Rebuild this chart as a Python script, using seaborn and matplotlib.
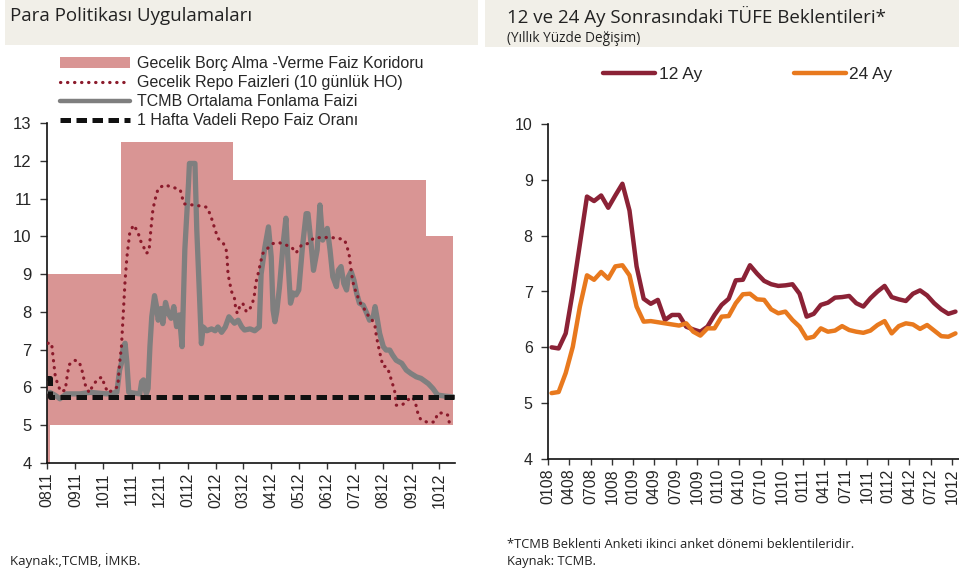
import pandas as pd
import seaborn as sns
import matplotlib.pyplot as plt
import matplotlib.dates as mdates
from matplotlib.patches import Patch, Rectangle
from matplotlib.lines import Line2D

# ---- left panel: policy corridor and overnight rates ----
corridor_dates = ["2011-08-01", "2011-08-04", "2011-10-20", "2012-02-19", "2012-09-16", "2012-10-16"]
corridor_low = [1.5, 5.0, 5.0, 5.0, 5.0, 5.0]
corridor_high = [9.0, 9.0, 12.5, 11.5, 10.0, 10.0]

policy_dates = ["2011-08-01", "2011-08-04", "2012-10-17"]
policy_rate = [6.25, 5.75, 5.75]

repo_dates = [
    "2011-08-02", "2011-08-06", "2011-08-08", "2011-08-10", "2011-08-13", "2011-08-16",
    "2011-08-21", "2011-08-22", "2011-08-25", "2011-08-31", "2011-09-05", "2011-09-08",
    "2011-09-10", "2011-09-12", "2011-09-16", "2011-09-20", "2011-09-26", "2011-09-30",
    "2011-10-03", "2011-10-07", "2011-10-11", "2011-10-17", "2011-10-19", "2011-10-21",
    "2011-10-23", "2011-10-25", "2011-10-27", "2011-10-30", "2011-11-03", "2011-11-08",
    "2011-11-10", "2011-11-14", "2011-11-17", "2011-11-20", "2011-11-22", "2011-11-24",
    "2011-11-26", "2011-11-30", "2011-12-07", "2011-12-16", "2011-12-24", "2011-12-28",
    "2012-01-16", "2012-01-22", "2012-01-26", "2012-01-31", "2012-02-03", "2012-02-09",
    "2012-02-12", "2012-02-13", "2012-02-14", "2012-02-16", "2012-02-18", "2012-02-21",
    "2012-02-22", "2012-02-24", "2012-02-27", "2012-03-01", "2012-03-05", "2012-03-09",
    "2012-03-12", "2012-03-14", "2012-03-15", "2012-03-17", "2012-03-19", "2012-03-21",
    "2012-03-23", "2012-03-28", "2012-04-03", "2012-04-10", "2012-04-17", "2012-04-23",
    "2012-04-28", "2012-05-04", "2012-05-11", "2012-05-17", "2012-05-25", "2012-06-04",
    "2012-06-13", "2012-06-20", "2012-06-23", "2012-06-25", "2012-06-26", "2012-06-28",
    "2012-06-30", "2012-07-03", "2012-07-06", "2012-07-12", "2012-07-15", "2012-07-19",
    "2012-07-23", "2012-07-24", "2012-07-26", "2012-07-28", "2012-07-30", "2012-08-01",
    "2012-08-04", "2012-08-08", "2012-08-10", "2012-08-13", "2012-08-15", "2012-08-21",
    "2012-08-26", "2012-08-31", "2012-09-04", "2012-09-06", "2012-09-08", "2012-09-11",
    "2012-09-19", "2012-09-26", "2012-09-29", "2012-10-05", "2012-10-10", "2012-10-12",
]
repo_rate = [
    7.17, 7.17, 6.72, 6.30, 6.06, 5.89,
    5.93, 6.15, 6.60, 6.72, 6.68, 6.46,
    6.24, 6.04, 5.86, 6.06, 6.24, 6.27,
    6.02, 5.86, 5.93, 6.02, 6.64, 7.08,
    7.96, 8.84, 9.46, 10.08, 10.30, 10.12,
    9.92, 9.73, 9.55, 9.60, 10.17, 10.65,
    10.92, 11.27, 11.36, 11.30, 11.23, 10.86,
    10.80, 10.77, 10.56, 10.17, 9.95, 9.81,
    9.64, 9.42, 9.00, 8.75, 8.53, 8.36,
    8.16, 7.96, 8.16, 8.23, 8.00, 8.09,
    8.27, 8.49, 8.75, 8.93, 9.15, 9.37,
    9.55, 9.68, 9.81, 9.83, 9.77, 9.72,
    9.56, 9.77, 9.81, 9.95, 9.97, 9.97,
    9.95, 9.90, 9.68, 9.48, 9.28, 8.93,
    8.66, 8.49, 8.27, 8.05, 7.92, 7.83,
    7.61, 7.43, 7.16, 6.94, 6.72, 6.55,
    6.56, 6.37, 6.15, 5.97, 5.53, 5.53,
    5.62, 5.75, 5.67, 5.49, 5.27, 5.14,
    5.07, 5.09, 5.31, 5.33, 5.27, 5.05,
]

fund_dates = [
    "2011-08-04", "2011-08-10", "2011-08-15", "2011-08-22", "2011-09-06", "2011-09-17",
    "2011-10-05", "2011-10-16", "2011-10-19", "2011-10-21", "2011-10-23", "2011-10-25",
    "2011-10-27", "2011-10-29", "2011-11-10", "2011-11-12", "2011-11-14", "2011-11-17",
    "2011-11-19", "2011-11-21", "2011-11-23", "2011-11-26", "2011-11-28", "2011-11-30",
    "2011-12-03", "2011-12-05", "2011-12-08", "2011-12-11", "2011-12-14", "2011-12-17",
    "2011-12-20", "2011-12-23", "2011-12-26", "2011-12-29", "2012-01-02", "2012-01-03",
    "2012-01-09", "2012-01-11", "2012-01-14", "2012-01-16", "2012-01-18", "2012-01-22",
    "2012-01-27", "2012-01-31", "2012-02-03", "2012-02-07", "2012-02-11", "2012-02-15",
    "2012-02-18", "2012-02-21", "2012-02-25", "2012-02-29", "2012-03-03", "2012-03-09",
    "2012-03-14", "2012-03-19", "2012-03-21", "2012-03-25", "2012-03-29", "2012-04-01",
    "2012-04-03", "2012-04-05", "2012-04-07", "2012-04-10", "2012-04-14", "2012-04-17",
    "2012-04-19", "2012-04-22", "2012-04-25", "2012-04-28", "2012-05-01", "2012-05-05",
    "2012-05-09", "2012-05-11", "2012-05-14", "2012-05-17", "2012-05-21", "2012-05-24",
    "2012-05-27", "2012-05-30", "2012-06-01", "2012-06-04", "2012-06-07", "2012-06-11",
    "2012-06-13", "2012-06-16", "2012-06-19", "2012-06-22", "2012-06-24", "2012-06-27",
    "2012-06-30", "2012-07-03", "2012-07-06", "2012-07-10", "2012-07-14", "2012-07-17",
    "2012-07-21", "2012-07-23", "2012-07-25", "2012-07-28", "2012-08-01", "2012-08-04",
    "2012-08-08", "2012-08-11", "2012-08-15", "2012-08-21", "2012-08-26", "2012-08-31",
    "2012-09-06", "2012-09-11", "2012-09-19", "2012-09-24", "2012-09-29", "2012-10-07",
    "2012-10-16",
]
fund_rate = [
    5.87, 5.79, 5.70, 5.83, 5.83, 5.87,
    5.83, 5.87, 6.46, 6.64, 7.08, 7.17,
    6.64, 5.87, 5.83, 6.15, 6.20, 5.83,
    5.97, 7.08, 7.87, 8.43, 8.17, 7.78,
    8.09, 7.69, 8.25, 7.96, 7.83, 8.14,
    7.61, 7.92, 7.08, 9.65, 11.40, 11.93,
    11.93, 10.17, 8.40, 7.16, 7.60, 7.50,
    7.55, 7.50, 7.60, 7.46, 7.60, 7.87,
    7.78, 7.70, 7.78, 7.60, 7.52, 7.55,
    7.50, 7.60, 9.00, 9.70, 10.25, 9.46,
    8.05, 7.74, 8.00, 8.66, 9.81, 10.48,
    9.46, 8.23, 8.50, 8.45, 8.58, 9.72,
    10.60, 10.60, 9.90, 9.10, 9.64, 10.83,
    9.90, 10.08, 10.21, 9.64, 8.93, 8.67,
    9.10, 9.20, 8.75, 8.58, 8.93, 9.07,
    8.84, 8.49, 8.23, 8.18, 7.96, 7.78,
    7.87, 8.14, 7.87, 7.43, 7.08, 6.99,
    6.99, 6.86, 6.72, 6.64, 6.46, 6.37,
    6.28, 6.24, 6.10, 5.97, 5.80, 5.77,
    5.75,
]

left_ticks = pd.date_range("2011-08-01", "2012-10-01", freq="MS")

# ---- right panel: CPI expectations (monthly, Jan 2008 - Oct 2012) ----
months = pd.date_range("2008-01-01", "2012-10-01", freq="MS")
exp_12 = [
    6.00, 5.98, 6.25, 7.00, 7.85, 8.70, 8.62, 8.72, 8.50, 8.72,
    8.93, 8.45, 7.45, 6.87, 6.78, 6.85, 6.49, 6.58, 6.58, 6.37,
    6.32, 6.28, 6.37, 6.58, 6.76, 6.87, 7.20, 7.21, 7.47, 7.32,
    7.19, 7.13, 7.10, 7.11, 7.13, 6.96, 6.55, 6.60, 6.76, 6.80,
    6.89, 6.90, 6.92, 6.79, 6.73, 6.88, 7.00, 7.10, 6.90, 6.86,
    6.83, 6.96, 7.02, 6.93, 6.79, 6.68, 6.60, 6.64,
]
exp_24 = [
    5.18, 5.20, 5.54, 6.01, 6.73, 7.29, 7.21, 7.35, 7.23, 7.45,
    7.47, 7.29, 6.73, 6.46, 6.47, 6.45, 6.43, 6.41, 6.39, 6.43,
    6.28, 6.21, 6.34, 6.34, 6.55, 6.56, 6.79, 6.95, 6.96, 6.86,
    6.85, 6.68, 6.61, 6.64, 6.49, 6.37, 6.16, 6.19, 6.34, 6.28,
    6.30, 6.38, 6.31, 6.28, 6.26, 6.30, 6.40, 6.47, 6.25, 6.38,
    6.43, 6.41, 6.33, 6.40, 6.30, 6.20, 6.19, 6.25,
]

PINK = "#d99594"
REPO_RED = "#8b1a2b"
GRAY = "#7f7f7f"
C12 = "#8b2236"
C24 = "#e8791e"
BAND = "#f1efe8"
TITLE_FONT = ["Open Sans", "DejaVu Sans"]

sns.set_theme(style="white")
plt.rcParams["font.family"] = ["Liberation Sans", "DejaVu Sans"]

fig = plt.figure(figsize=(9.59, 5.72), dpi=100)

# title bands
fig.patches.append(Rectangle((0.005, 0.921), 0.493, 0.079, transform=fig.transFigure,
                             facecolor=BAND, edgecolor="none", zorder=0))
fig.patches.append(Rectangle((0.506, 0.917), 0.494, 0.083, transform=fig.transFigure,
                             facecolor=BAND, edgecolor="none", zorder=0))
fig.text(10 / 959, 1 - 16 / 572, "Para Politikası Uygulamaları", fontsize=13.5,
         family=TITLE_FONT, va="center", color="#222222")
fig.text(507 / 959, 1 - 16 / 572, "12 ve 24 Ay Sonrasındaki TÜFE Beklentileri*", fontsize=13.5,
         family=TITLE_FONT, va="center", color="#222222")
fig.text(507 / 959, 1 - 38 / 572, "(Yıllık Yüzde Değişim)", fontsize=9.8,
         family=TITLE_FONT, va="center", color="#222222")

# ---------------- left chart ----------------
ax1 = fig.add_axes([47 / 959, 1 - 463 / 572, 408 / 959, 340 / 572])
cd = pd.to_datetime(corridor_dates)
ax1.fill_between(cd, corridor_low, corridor_high, step="post", color=PINK, lw=0, zorder=1)
sns.lineplot(x=pd.to_datetime(fund_dates), y=fund_rate, ax=ax1, color=GRAY, lw=3.8,
             zorder=3, sort=False)
sns.lineplot(x=pd.to_datetime(repo_dates), y=repo_rate, ax=ax1, color=REPO_RED, lw=2.3,
             linestyle=(0, (0.1, 2.1)), dash_capstyle="round", zorder=4, sort=False)
sns.lineplot(x=pd.to_datetime(policy_dates), y=policy_rate, ax=ax1, color="#111111", lw=3.6,
             linestyle=(0, (2.1, 1.1)), drawstyle="steps-post", zorder=5, sort=False)

ax1.set_xlim(pd.Timestamp("2011-08-01"), pd.Timestamp("2012-10-18"))
ax1.set_ylim(4, 13)
ax1.set_yticks(range(4, 14))
ax1.set_xticks(left_ticks)
ax1.xaxis.set_major_formatter(mdates.DateFormatter("%m%y"))
ax1.tick_params(axis="x", rotation=90, labelsize=11.5, length=4, width=1, direction="out",
                bottom=True, color="#333333", pad=3)
ax1.tick_params(axis="y", labelsize=12, length=5, width=1, direction="out", left=True,
                color="#333333", pad=6)
for s in ["top", "right"]:
    ax1.spines[s].set_visible(False)
for s in ["left", "bottom"]:
    ax1.spines[s].set_color("#111111")
    ax1.spines[s].set_linewidth(1.2)
ax1.set_xlabel("")
ax1.set_ylabel("")

h_left = [
    Patch(facecolor=PINK, edgecolor="none"),
    Line2D([], [], color=REPO_RED, lw=2.3, linestyle=(0, (0.1, 2.1)), dash_capstyle="round"),
    Line2D([], [], color=GRAY, lw=3.2),
    Line2D([], [], color="#111111", lw=3.6, linestyle=(0, (2.1, 1.1))),
]
l_left = [
    "Gecelik Borç Alma -Verme Faiz Koridoru",
    "Gecelik Repo Faizleri (10 günlük HO)",
    "TCMB Ortalama Fonlama Faizi",
    "1 Hafta Vadeli Repo Faiz Oranı",
]
fig.legend(h_left, l_left, loc="upper left", bbox_to_anchor=(60 / 959, 1 - 56 / 572),
           frameon=False, fontsize=11.5, handlelength=4.4, handleheight=0.7,
           handletextpad=0.45, labelspacing=0.26, borderpad=0, borderaxespad=0)

# ---------------- right chart ----------------
ax2 = fig.add_axes([548 / 959, 1 - 459 / 572, 411 / 959, 335 / 572])
idx = list(range(len(months)))
sns.lineplot(x=idx, y=exp_12, ax=ax2, color=C12, lw=3.2, label="12 Ay")
sns.lineplot(x=idx, y=exp_24, ax=ax2, color=C24, lw=3.2, label="24 Ay")
ax2.set_xlim(-0.5, len(months) - 0.5)
ax2.set_ylim(4, 10)
ax2.set_yticks(range(4, 11))
qt = list(range(0, len(months), 3))
ax2.set_xticks([i - 0.5 for i in qt])
ax2.set_xticklabels([months[i].strftime("%m%y") for i in qt])
ax2.tick_params(axis="x", rotation=90, labelsize=11.5, length=4, width=1, direction="out",
                bottom=True, color="#333333", pad=3)
ax2.tick_params(axis="y", labelsize=11.5, length=5, width=1, direction="out", left=True,
                color="#333333", pad=6)
for s in ["top", "right"]:
    ax2.spines[s].set_visible(False)
for s in ["left", "bottom"]:
    ax2.spines[s].set_color("#111111")
    ax2.spines[s].set_linewidth(1.2)
ax2.set_xlabel("")
ax2.set_ylabel("")
ax2.legend_.remove()
h2, l2 = ax2.get_legend_handles_labels()
fig.legend(h2, l2, loc="upper left", bbox_to_anchor=(603 / 959, 1 - 67 / 572), ncol=2,
           frameon=False, fontsize=12.5, handlelength=3.0, handletextpad=0.2,
           columnspacing=5.3, borderpad=0, borderaxespad=0)

# footnotes
fig.text(10 / 959, 1 - 561 / 572, "Kaynak:,TCMB, İMKB.", fontsize=9.5,
         family=TITLE_FONT, va="center", color="#222222")
fig.text(507 / 959, 1 - 545 / 572, "*TCMB Beklenti Anketi ikinci anket dönemi beklentileridir.",
         fontsize=9.3, family=TITLE_FONT, va="center", color="#222222")
fig.text(507 / 959, 1 - 562 / 572, "Kaynak: TCMB.", fontsize=9.3,
         family=TITLE_FONT, va="center", color="#222222")

fig.savefig("out.png", dpi=100)
